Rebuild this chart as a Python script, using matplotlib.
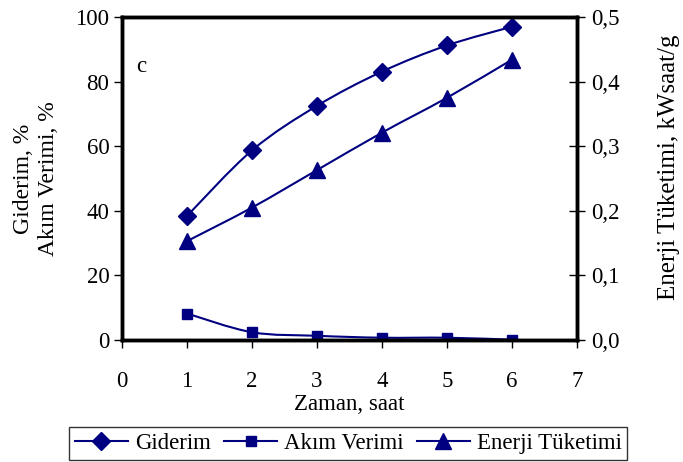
import numpy as np
import matplotlib.pyplot as plt
from matplotlib.path import Path
from matplotlib.patches import PathPatch
from matplotlib.lines import Line2D

plt.rcParams['font.family'] = ['Liberation Serif', 'DejaVu Serif']

# values
saat = [1, 2, 3, 4, 5, 6]
giderim = [38.4, 58.7, 72.5, 83.1, 91.2, 97.0]
akim_verimi = [8.2, 2.4, 1.3, 0.7, 0.7, 0.1]
enerji = [0.153, 0.205, 0.263, 0.321, 0.375, 0.434]

navy = '#000080'
fs = 16.5


def smooth_path(x, y):
    # Excel-style smoothed line: Catmull-Rom segments as cubic Bezier
    x = np.asarray(x, float)
    y = np.asarray(y, float)
    verts = [(x[0], y[0])]
    codes = [Path.MOVETO]
    n = len(x)
    for i in range(n - 1):
        p0 = (x[max(i - 1, 0)], y[max(i - 1, 0)])
        p1 = (x[i], y[i])
        p2 = (x[i + 1], y[i + 1])
        p3 = (x[min(i + 2, n - 1)], y[min(i + 2, n - 1)])
        c1 = (p1[0] + (p2[0] - p0[0]) / 6, p1[1] + (p2[1] - p0[1]) / 6)
        c2 = (p2[0] - (p3[0] - p1[0]) / 6, p2[1] - (p3[1] - p1[1]) / 6)
        verts += [c1, c2, p2]
        codes += [Path.CURVE4] * 3
    return Path(verts, codes)


fig = plt.figure(figsize=(6.83, 4.62), dpi=100)
ax = fig.add_axes([0.1786, 0.2641, 0.6662, 0.6991])
ax2 = ax.twinx()

ax.add_patch(PathPatch(smooth_path(saat, giderim), fill=False, color=navy, lw=1.5))
ax.add_patch(PathPatch(smooth_path(saat, akim_verimi), fill=False, color=navy, lw=1.5))
ax2.add_patch(PathPatch(smooth_path(saat, enerji), fill=False, color=navy, lw=1.5))

ax.plot(saat, giderim, ls='none', marker='D', ms=9.5, color=navy)
ax.plot(saat, akim_verimi, ls='none', marker='s', ms=7.5, color=navy)
ax2.plot(saat, enerji, ls='none', marker='^', ms=11.5, color=navy)

ax.set_xlim(0, 7)
ax.set_ylim(0, 100)
ax2.set_ylim(0, 0.5)
ax.set_xticks(range(0, 8))
ax.set_yticks(range(0, 101, 20))
ax2.set_yticks([0.0, 0.1, 0.2, 0.3, 0.4, 0.5])
ax2.set_yticklabels(['0,0', '0,1', '0,2', '0,3', '0,4', '0,5'])

for a in (ax, ax2):
    for s in a.spines.values():
        s.set_linewidth(2.5)
ax.tick_params(axis='y', labelsize=fs, direction='out', length=6, width=1, pad=3)
ax.tick_params(axis='x', labelsize=fs, direction='out', length=6, width=1, pad=16)
ax2.tick_params(axis='y', labelsize=fs, direction='inout', length=12, width=1, pad=4)

ax.set_xlabel('Zaman, saat', fontsize=fs, labelpad=2)
ax.set_ylabel('Giderim, %\nAkım Verimi, %', fontsize=fs + 0.5, labelpad=12, linespacing=1.25)
ax2.set_ylabel('Enerji Tüketimi, kWsaat/g', fontsize=fs + 1.5)
ax2.yaxis.set_label_coords(1.178, 0.535)

ax.text(0.22, 83, 'c', fontsize=fs)

handles = [
    Line2D([], [], color=navy, lw=1.5, marker='D', ms=9.5),
    Line2D([], [], color=navy, lw=1.5, marker='s', ms=7.5),
    Line2D([], [], color=navy, lw=1.5, marker='^', ms=11.5),
]
leg = fig.legend(handles, ['Giderim', 'Akım Verimi', 'Enerji Tüketimi'],
                 loc='lower center', bbox_to_anchor=(0.51, 0.0), ncol=3,
                 fontsize=fs, frameon=True, fancybox=False, edgecolor='black',
                 handlelength=2.3, handletextpad=0.3, columnspacing=0.6,
                 borderpad=0.25, borderaxespad=0.1)
leg.get_frame().set_linewidth(1.0)

fig.savefig('out.png', dpi=100)
